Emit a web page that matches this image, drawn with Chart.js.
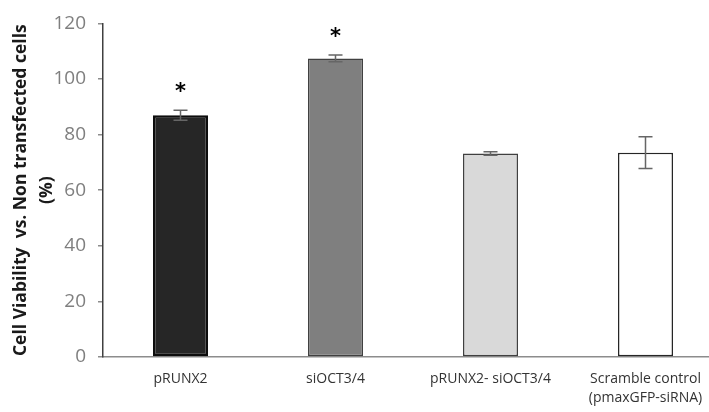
<!DOCTYPE html>
<html>
<head>
<meta charset="utf-8">
<script src="https://cdn.jsdelivr.net/npm/chart.js@4.4.1/dist/chart.umd.min.js"></script>
<style>
  html, body { margin: 0; padding: 0; background: #fff; overflow: hidden; }
  #wrap { width: 725px; height: 412px; }
</style>
</head>
<body>
<div id="wrap"><canvas id="viability"></canvas></div>
<script>
// groups and measured viability (% of non transfected cells)
const groups = ['pRUNX2', 'siOCT3/4', 'pRUNX2- siOCT3/4', ['Scramble control', '(pmaxGFP-siRNA)']];
const viability = [87.0, 107.4, 73.2, 73.5];
const sdErr = [1.8, 1.2, 0.6, 5.7];
const significant = [true, true, false, false];
const yTicks = [0, 20, 40, 60, 80, 100, 120];

const fills = ['#262626', '#7f7f7f', '#d9d9d9', '#ffffff'];
const edges = ['#0d0d0d', '#404040', '#404040', '#262626'];

// whiskers + stars on top of the bars
const errorBars = {
    id: 'errorBars',
    afterDatasetsDraw(chart) {
        const ctx = chart.ctx;
        const y = chart.scales.y;
        const meta = chart.getDatasetMeta(0);
        ctx.save();
        meta.data.forEach((bar, i) => {
            const top = y.getPixelForValue(viability[i] + sdErr[i]);
            const bottom = y.getPixelForValue(viability[i] - sdErr[i]);
            ctx.strokeStyle = '#666666';
            ctx.lineWidth = 1.5;
            ctx.beginPath();
            ctx.moveTo(bar.x, top);
            ctx.lineTo(bar.x, bottom);
            ctx.moveTo(bar.x - 7, top);
            ctx.lineTo(bar.x + 7, top);
            ctx.moveTo(bar.x - 7, bottom);
            ctx.lineTo(bar.x + 7, bottom);
            ctx.stroke();
            if (significant[i]) {
                ctx.fillStyle = '#000';
                ctx.font = 'bold 21px "DejaVu Sans"';
                ctx.textAlign = 'center';
                ctx.textBaseline = 'alphabetic';
                ctx.fillText('*', bar.x, top - 12);
            }
        });
        ctx.restore();
    }
};

new Chart(document.getElementById('viability'), {
    type: 'bar',
    data: {
        labels: groups,
        datasets: [{
            data: viability,
            backgroundColor: fills,
            borderColor: edges,
            borderWidth: [2.5, 1.5, 1.5, 1.5],
            borderSkipped: false,
            categoryPercentage: 1,
            barPercentage: 0.355
        }]
    },
    options: {
        responsive: true,
        maintainAspectRatio: false,
        animation: false,
        layout: { padding: { top: 22, right: 2, left: 0, bottom: 0 } },
        plugins: {
            legend: { display: false },
            tooltip: { enabled: false }
        },
        scales: {
            x: {
                grid: { display: false, drawTicks: false },
                border: { display: true, color: '#8c8c8c', width: 1.5 },
                ticks: {
                    color: '#333333',
                    padding: 13,
                    maxRotation: 0,
                    autoSkip: false,
                    font: { family: '"Open Sans"', size: 14, lineHeight: 1.35 }
                },
                afterFit(scale) { scale.height = 55; }
            },
            y: {
                min: 0,
                max: 120,
                afterBuildTicks(scale) { scale.ticks = yTicks.map(v => ({ value: v })); },
                grid: { drawOnChartArea: false, drawTicks: true, tickLength: 5, color: '#8c8c8c', lineWidth: 1.5 },
                border: { display: true, color: '#404040', width: 1.5 },
                ticks: {
                    color: '#7f7f7f',
                    padding: 12,
                    font: { family: '"Open Sans"', size: 19 }
                },
                title: {
                    display: true,
                    text: ['Cell Viability  vs. Non transfected cells', '(%)'],
                    color: '#1a1a1a',
                    padding: { top: 8, bottom: 0 },
                    font: { family: '"Open Sans"', size: 17.5, weight: 'bold', lineHeight: 1.5 }
                },
                afterFit(scale) { scale.width = 103; }
            }
        }
    },
    plugins: [errorBars]
});
</script>
</body>
</html>
